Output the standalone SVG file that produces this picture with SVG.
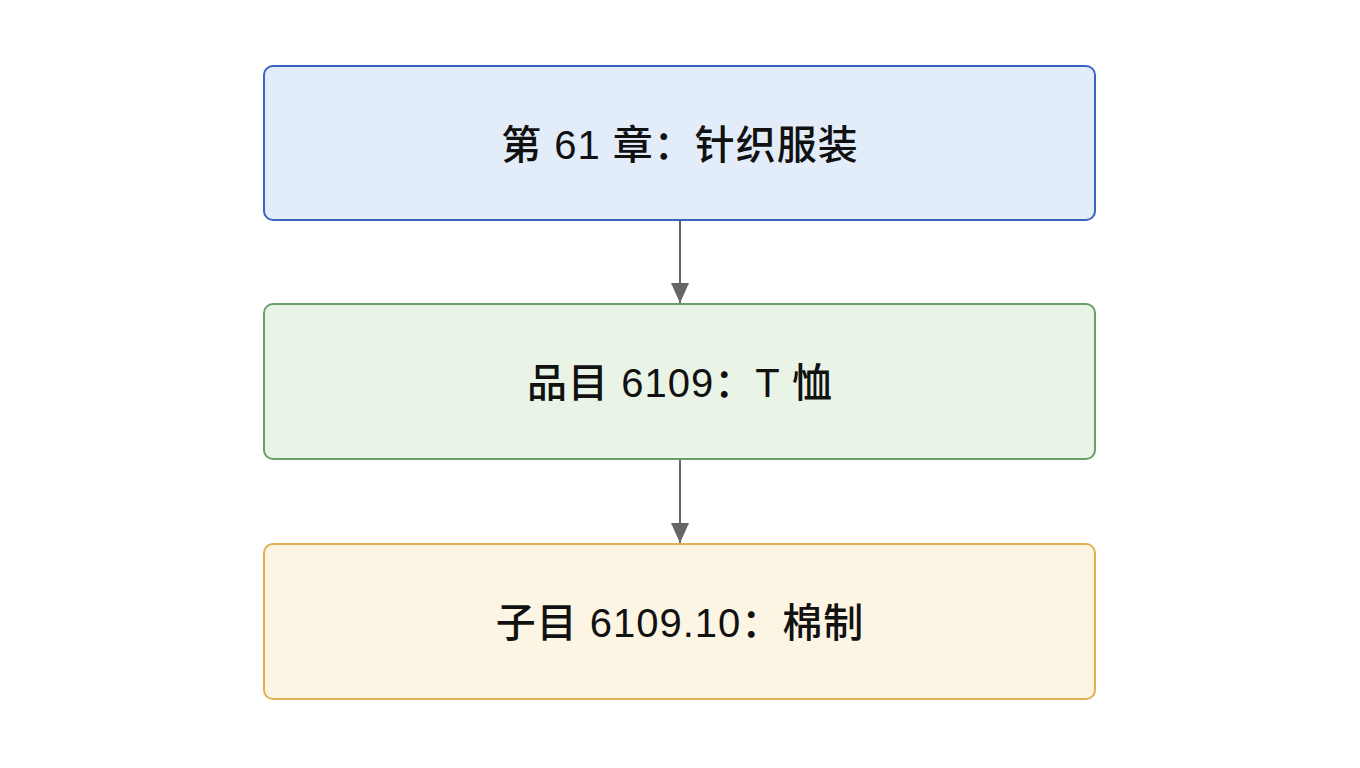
<svg xmlns="http://www.w3.org/2000/svg" width="1360" height="768" viewBox="0 0 1360 768">
<style>
.t{font-family:"Liberation Sans","Noto Sans CJK SC",sans-serif;font-size:40px;font-weight:500;letter-spacing:1px;fill:#111;text-anchor:middle;dominant-baseline:central}
.c{stroke:#666;stroke-width:2;fill:none}
</style>
<defs>
<marker id="b" viewBox="0 0 20 18" markerWidth="20" markerHeight="18" refX="20" refY="9" orient="auto" markerUnits="userSpaceOnUse"><path d="M0,0 L20,9 L0,18 Z" fill="#666"/></marker></defs>
<rect width="1360" height="768" fill="#fff"/>
<g id="connectors">
<line class="c" x1="680" y1="221" x2="680" y2="303" marker-end="url(#b)"/>
<line class="c" x1="680" y1="460" x2="680" y2="543" marker-end="url(#b)"/>
</g>
<g id="n1"><rect x="264" y="66" width="831" height="154" rx="9" fill="#e3ecf9" stroke="#3b63c4" stroke-width="2"/><text class="t" x="680" y="145">第 61 章：针织服装</text></g>
<g id="n2"><rect x="264" y="304" width="831" height="155" rx="9" fill="#e9f3e6" stroke="#6a9e6a" stroke-width="2"/><text class="t" x="680" y="383">品目 6109：T 恤</text></g>
<g id="n3"><rect x="264" y="544" width="831" height="155" rx="9" fill="#fdf5e3" stroke="#e3b04f" stroke-width="2"/><text class="t" x="680" y="623">子目 6109.10：棉制</text></g>
</svg>
